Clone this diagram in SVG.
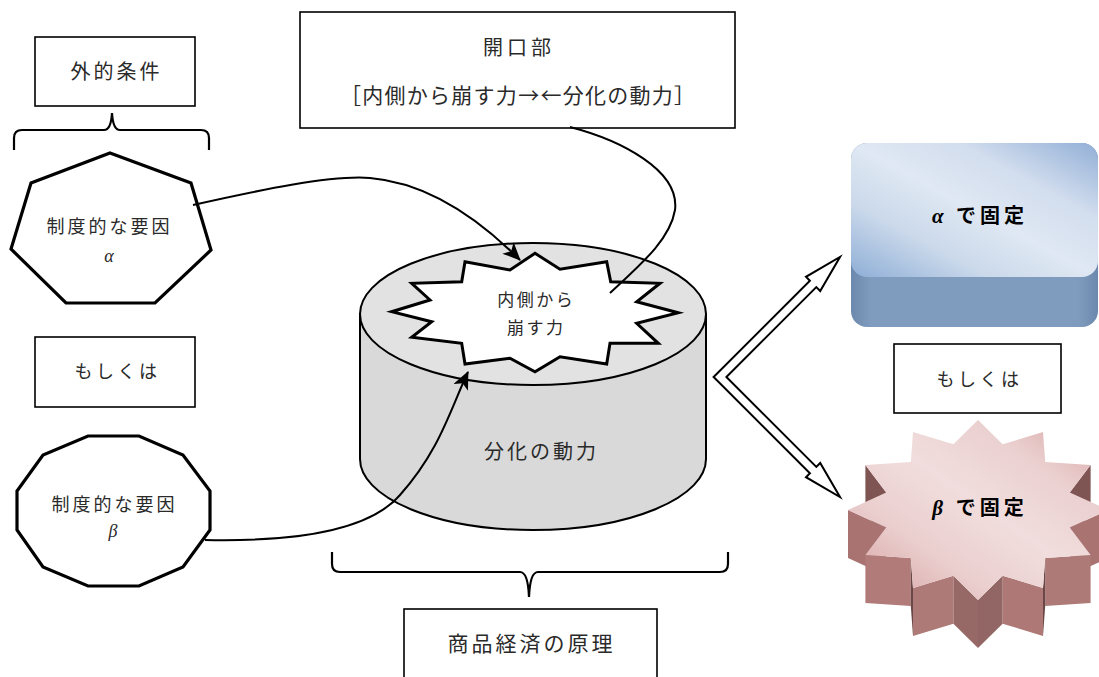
<svg xmlns="http://www.w3.org/2000/svg" width="1099" height="677" viewBox="0 0 1099 677">
<style>
.box{fill:#fff;stroke:#000;stroke-width:1.6}
.jp{font-family:"Noto Sans CJK JP","Liberation Sans",sans-serif;fill:#2a2a2a;text-anchor:middle}
.gk{font-family:"Liberation Serif",serif;font-style:italic}
.bold{font-weight:bold;fill:#000}
.conn{fill:none;stroke:#000;stroke-width:2}
.brace{fill:none;stroke:#000;stroke-width:2.2}
.poly{fill:#fff;stroke:#000;stroke-width:3.2;stroke-linejoin:miter}
</style>
<defs>
<marker id="ah" markerUnits="userSpaceOnUse" markerWidth="18" markerHeight="16" viewBox="0 0 18 16" refX="17" refY="8" orient="auto">
<path d="M0,0 L18,8 L0,16 L4.5,8 Z" fill="#000"/>
</marker>
<linearGradient id="blueTop" x1="0" y1="1" x2="1" y2="0">
<stop offset="0" stop-color="#8eaed6"/>
<stop offset="0.28" stop-color="#cbd9eb"/>
<stop offset="0.5" stop-color="#dfe8f3"/>
<stop offset="0.72" stop-color="#d2ddee"/>
<stop offset="1" stop-color="#91afd6"/>
</linearGradient>
<linearGradient id="blueSide" x1="0" y1="0" x2="1" y2="0">
<stop offset="0" stop-color="#6c88ac"/>
<stop offset="0.08" stop-color="#7f9bbd"/>
<stop offset="0.92" stop-color="#7f9bbd"/>
<stop offset="1" stop-color="#6c88ac"/>
</linearGradient>
<linearGradient id="pinkTop" x1="0" y1="1" x2="1" y2="0">
<stop offset="0" stop-color="#d59c9c"/>
<stop offset="0.3" stop-color="#ebcfcf"/>
<stop offset="0.52" stop-color="#f1dddd"/>
<stop offset="0.74" stop-color="#ebd0d0"/>
<stop offset="1" stop-color="#d59d9d"/>
</linearGradient>
</defs>

<g id="gaiteki">
<rect class="box" x="35" y="37" width="160" height="69"/>
<text class="jp" x="116.5" y="79" font-size="20" letter-spacing="3">外的条件</text>
</g>

<g id="brace-top">
<path class="brace" d="M14,150 L14,138 Q14,130 22,130 L104,130 Q111,130 112,113 Q113,130 120,130 L201,130 Q209,130 209,138 L209,150"/>
</g>

<g id="factor-alpha">
<polygon class="poly" points="110,153 191,183 211,250 155,303 66,303 11,249 31,183"/>
<text class="jp" x="109.5" y="233" font-size="18" letter-spacing="3">制度的な要因</text>
<text class="gk" x="109" y="262" font-size="18" fill="#2a2a2a" text-anchor="middle">α</text>
</g>

<g id="moshikuha-left">
<rect class="box" x="35" y="337" width="160" height="70"/>
<text class="jp" x="117.5" y="378" font-size="18" letter-spacing="3.5">もしくは</text>
</g>

<g id="factor-beta">
<polygon class="poly" points="88,436 139,436 183,455 210,491 210,530 183,567 139,586 88,586 43,567 17,530 17,491 43,455"/>
<text class="jp" x="114.5" y="511" font-size="18" letter-spacing="3">制度的な要因</text>
<text class="gk" x="113" y="537" font-size="18" fill="#2a2a2a" text-anchor="middle">β</text>
</g>

<g id="kaikoubu">
<rect class="box" x="300" y="12" width="435" height="116" stroke-width="2"/>
<text class="jp" x="519" y="55" font-size="20" letter-spacing="4">開口部</text>
<text class="jp" x="340" y="103" font-size="21" textLength="355" lengthAdjust="spacing" style="text-anchor:start">［内側から崩す力→←分化の動力］</text>
</g>

<g id="cylinder">
<path d="M360,314 L360,459 A173,71 0 0 0 706,459 L706,314 Z" fill="#d9d9d9" stroke="#000" stroke-width="2"/>
<ellipse cx="533" cy="314" rx="173" ry="71" fill="#e2e2e2" stroke="#000" stroke-width="2"/>
<text class="jp" x="541.5" y="459" font-size="20" letter-spacing="3">分化の動力</text>
</g>

<g id="burst">
<polygon points="535,253.3 560,269.3 606.7,261.7 610.7,281.7 660,283.3 636.7,301.7 678.3,312.7 636.7,323.3 658.3,343.3 610,343.3 606.7,364 560,356.7 535,371.7 510,358.3 465,364 461.7,343.3 411.7,337.3 431.7,321.7 391.7,311.7 430,300 411.7,283.3 461.7,281.7 465,261.7 510,270" fill="#fff" stroke="#000" stroke-width="3" stroke-linejoin="miter"/>
<text class="jp" x="536.2" y="306" font-size="17" letter-spacing="2.5">内側から</text>
<text class="jp" x="536.2" y="334" font-size="17" letter-spacing="2.5">崩す力</text>
</g>

<g id="brace-bottom">
<path class="brace" d="M332,552 L332,564 Q332,572 340,572 L520,572 Q528,572 529,597 Q530,572 538,572 L720,572 Q728,572 728,564 L728,552"/>
</g>

<g id="shouhin">
<rect class="box" x="404" y="609" width="253" height="80"/>
<text class="jp" x="531.5" y="651" font-size="21" letter-spacing="3">商品経済の原理</text>
</g>

<g id="fixed-alpha">
<rect x="851" y="143" width="247" height="184" rx="16" ry="16" fill="url(#blueSide)"/>
<rect x="851" y="143" width="247" height="134" rx="16" ry="16" fill="url(#blueTop)"/>
<text class="jp bold" x="980" y="223" font-size="20" letter-spacing="4"><tspan class="gk" font-size="21">α</tspan> で固定</text>
</g>

<g id="moshikuha-right">
<rect class="box" x="894" y="344" width="167" height="69"/>
<text class="jp" x="979.5" y="386" font-size="18" letter-spacing="3.5">もしくは</text>
</g>

<g id="fixed-beta">
<polygon points="1090.6,465 1069.8,492.4 1069.8,540.4 1090.6,513" fill="#7e5553"/>
<polygon points="886.2,492.4 865.4,465 865.4,513 886.2,540.4" fill="#7e5553"/>
<polygon points="1108,510 1069.8,527.6 1069.8,575.6 1108,558" fill="#a87371"/>
<polygon points="886.2,527.6 848,510 848,558 886.2,575.6" fill="#a87371"/>
<polygon points="1090.6,555 1045.2,558.1 1045.2,606.1 1090.6,603" fill="#ae7a77"/>
<polygon points="910.8,558.1 865.4,555 865.4,603 910.8,606.1" fill="#b07b79"/>
<polygon points="1045.2,558.1 1043,587.9 1043,635.9 1045.2,606.1" fill="#6b4846"/>
<polygon points="913,587.9 910.8,558.1 910.8,606.1 913,635.9" fill="#6b4846"/>
<polygon points="1043,587.9 1002.6,575.7 1002.6,623.7 1043,635.9" fill="#ad7875"/>
<polygon points="953.4,575.7 913,587.9 913,635.9 953.4,623.7" fill="#ae7a77"/>
<polygon points="1002.6,575.7 978,600 978,648 1002.6,623.7" fill="#926664"/>
<polygon points="978,600 953.4,575.7 953.4,623.7 978,648" fill="#966967"/>
<polygon points="978,420 1002.6,444.3 1043,432.1 1045.2,461.9 1090.6,465 1069.8,492.4 1108,510 1069.8,527.6 1090.6,555 1045.2,558.1 1043,587.9 1002.6,575.7 978,600 953.4,575.7 913,587.9 910.8,558.1 865.4,555 886.2,527.6 848,510 886.2,492.4 865.4,465 910.8,461.9 913,432.1 953.4,444.3" fill="url(#pinkTop)"/>
<text class="jp bold" x="980" y="515" font-size="20" letter-spacing="4"><tspan class="gk" font-size="21">β</tspan> で固定</text>
</g>

<g id="connectors">
<path class="conn" d="M193,205 C260,190 330,175 370,178 C430,183 480,220 520,260" marker-end="url(#ah)"/>
<path class="conn" d="M205,540 C300,542 370,530 400,495 C440,450 450,410 468,372" marker-end="url(#ah)"/>
<path class="conn" d="M570,127 C620,140 680,170 675,210 C670,240 640,265 610,293"/>
<polygon points="713.6,377 809.9,280.7 806,276.8 840,257 820.2,291 816.3,287.1 726.4,377 816.3,466.9 820.2,463 840,497 806,477.2 809.9,473.3" fill="#fff" stroke="#000" stroke-width="2" stroke-linejoin="miter"/>
</g>
</svg>
